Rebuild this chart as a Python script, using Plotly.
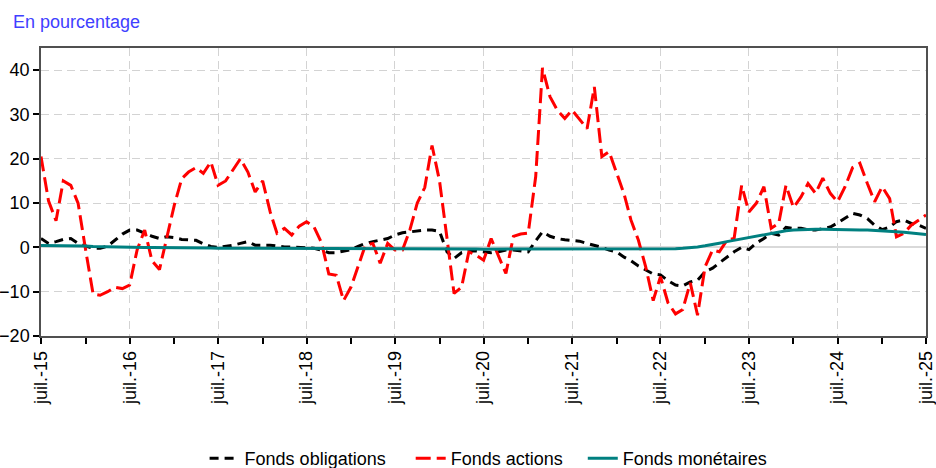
import pandas as pd
import plotly.graph_objects as go

# ---- data ----
months = pd.date_range("2015-07-01", "2025-07-01", freq="MS")

fonds_obligations = [
    2, 0.9, 1.3, 1.8, 2, 0.9, 0.3, -0.2, -0.2, 0.3,
    1.6, 3, 3.9, 3.9, 3.2, 2.5, 2, 2.4, 2.2, 1.8,
    1.7, 1.6, 0.8, 0.2, 0, 0.2, 0.5, 0.9, 1.3, 0.5,
    0.5, 0.5, 0.3, 0.1, 0.1, 0, -0.1, -0.2, -0.6, -1.2,
    -1.2, -0.8, -0.5, 0.3, 0.9, 1.3, 1.6, 2, 2.8, 3.3,
    3.5, 3.7, 3.9, 3.9, 3.6, -1, -2.5, -1.2, -0.8, -0.8,
    -1, -1.2, -1, -0.6, -0.6, -0.8, -1, 1.5, 3.5, 2.5,
    2, 1.7, 1.6, 1.4, 0.9, 0.5, 0, -0.6, -1, -2.2,
    -3, -4.2, -5, -6, -6.2, -7.5, -8.5, -8.7, -7.8, -7.4,
    -5.5, -4.7, -3.5, -2.2, -1, 0, -0.5, 1, 2, 3.2,
    2.8, 4.5, 4.3, 4.3, 4, 3.9, 4.3, 4.6, 5.5, 6.5,
    7.7, 7.3, 6.5, 5, 4, 4.6, 5.8, 6.2, 5.4, 5,
    4.3,
]

fonds_actions = [
    20.5, 10.5, 6, 15, 14, 10, -0.5, -10.5, -10.8, -10,
    -9, -9.3, -8.5, -0.5, 3.9, -3, -5, 2, 9.5, 15.5,
    17, 18, 16.7, 19.3, 14, 15, 17.4, 20, 17, 12.5,
    15, 8, 3.2, 4.3, 2.8, 4.8, 5.8, 4.6, 1, -6,
    -6.3, -12, -8.9, -4, 0.5, 0.9, -3.6, 0.9, -0.6, -0.6,
    4, 10, 13.5, 23, 15, 2, -10.4, -9, -1, -1.8,
    -2.9, 2, -2.1, -5.9, 2.5, 3, 3.2, 16, 40.5, 34,
    31, 29.1, 31, 29, 26.8, 36.2, 20.5, 21.6, 17, 12,
    6.2, 1.6, -4.4, -12, -6.6, -12.5, -15, -14, -8, -15.3,
    -4.4, -0.6, -1, 1.6, 2, 14, 8, 10, 13.7, 4.3,
    5.4, 14, 9, 11.4, 14.4, 12.2, 15.6, 12.2, 10.3, 13.7,
    18, 19, 14.4, 10.3, 13.7, 11, 2.4, 3.2, 5, 6.2,
    7.3,
]

fonds_monetaires = [
    0.4, 0.4, 0.4, 0.35, 0.35, 0.3, 0.3, 0.2, 0.15, 0.1,
    0.1, 0.05, 0.05, 0, 0, 0, 0, 0, 0, 0,
    -0.05, -0.1, -0.1, -0.15, -0.2, -0.2, -0.2, -0.25, -0.3, -0.3,
    -0.3, -0.3, -0.3, -0.35, -0.35, -0.35, -0.35, -0.35, -0.35, -0.35,
    -0.35, -0.35, -0.35, -0.35, -0.35, -0.35, -0.35, -0.35, -0.35, -0.35,
    -0.35, -0.35, -0.35, -0.35, -0.35, -0.35, -0.35, -0.35, -0.35, -0.35,
    -0.4, -0.4, -0.4, -0.4, -0.4, -0.4, -0.4, -0.4, -0.4, -0.4,
    -0.4, -0.4, -0.4, -0.4, -0.4, -0.4, -0.4, -0.4, -0.4, -0.4,
    -0.4, -0.4, -0.4, -0.4, -0.4, -0.35, -0.3, -0.2, -0.1, 0.1,
    0.35, 0.6, 0.95, 1.3, 1.6, 1.9, 2.2, 2.5, 2.85, 3.2,
    3.5, 3.75, 3.9, 4.0, 4.05, 4.1, 4.1, 4.1, 4.1, 4.05,
    4.0, 3.95, 3.9, 3.85, 3.75, 3.65, 3.55, 3.4, 3.2, 3.05,
    2.9,
]

series_names = ["Fonds obligations", "Fonds actions", "Fonds monétaires"]

years = list(range(2015, 2026))
tick_dates = [f"{y}-07-01" for y in years]
tick_labels = [f"juil.-{str(y)[2:]}" for y in years]
minor_dates = [f"{y}-01-01" for y in range(2016, 2026)]
y_ticks = [-20, -10, 0, 10, 20, 30, 40]

FONT = "Arial, Liberation Sans, sans-serif"
NB = "\u00a0"

fig = go.Figure()
fig.add_trace(go.Scatter(x=months, y=fonds_obligations, name=series_names[0] + NB * 4,
                         mode="lines", line=dict(color="black", width=3, dash="9px,6px")))
fig.add_trace(go.Scatter(x=months, y=fonds_actions, name=series_names[1] + NB * 3,
                         mode="lines", line=dict(color="#FF0000", width=3, dash="15px,6px")))
fig.add_trace(go.Scatter(x=months, y=fonds_monetaires, name=series_names[2],
                         mode="lines", line=dict(color="#008080", width=3)))

fig.update_layout(
    width=936, height=468,
    paper_bgcolor="white", plot_bgcolor="white",
    margin=dict(l=41, r=10, t=48, b=132, autoexpand=False),
    font=dict(family=FONT, size=18, color="black"),
    showlegend=True,
    legend=dict(orientation="h", xref="container", yref="container",
                x=0.522, xanchor="center", y=0.02, yanchor="middle",
                font=dict(size=18), bgcolor="rgba(0,0,0,0)", itemwidth=30),
    annotations=[dict(text="En pourcentage", xref="paper", yref="paper",
                      x=0, y=1, xshift=-30, yshift=26, xanchor="left", yanchor="middle",
                      showarrow=False, font=dict(size=18, color="#4040FF", family=FONT))],
)

fig.update_xaxes(
    type="date", automargin=False,
    range=["2015-07-01", "2025-07-01"],
    tickmode="array", tickvals=tick_dates, ticktext=tick_labels,
    tickangle=-90,
    ticks="outside", ticklen=6, tickwidth=2, tickcolor="black",
    showgrid=True, gridcolor="#D3D3D3", gridwidth=1, griddash="8px,5px",
    minor=dict(tickmode="array", tickvals=minor_dates, ticks="outside",
               ticklen=6, tickwidth=2, tickcolor="black", showgrid=False),
    showline=True, linecolor="#505050", linewidth=1.5, mirror=True,
    zeroline=False,
    tickfont=dict(size=18, family=FONT),
)
fig.update_yaxes(
    range=[-20, 45], automargin=False,
    tickmode="array", tickvals=y_ticks,
    ticks="outside", ticklen=6, tickwidth=2, tickcolor="black",
    ticklabelstandoff=0,
    showgrid=True, gridcolor="#D3D3D3", gridwidth=1, griddash="8px,5px",
    zeroline=True, zerolinecolor="#D9D9D9", zerolinewidth=2,
    showline=True, linecolor="#505050", linewidth=1.5, mirror=True,
    tickfont=dict(size=18, family=FONT),
)

fig.write_html("out.html", config={"displayModeBar": False},
               post_script="document.body.style.margin='0px';")
